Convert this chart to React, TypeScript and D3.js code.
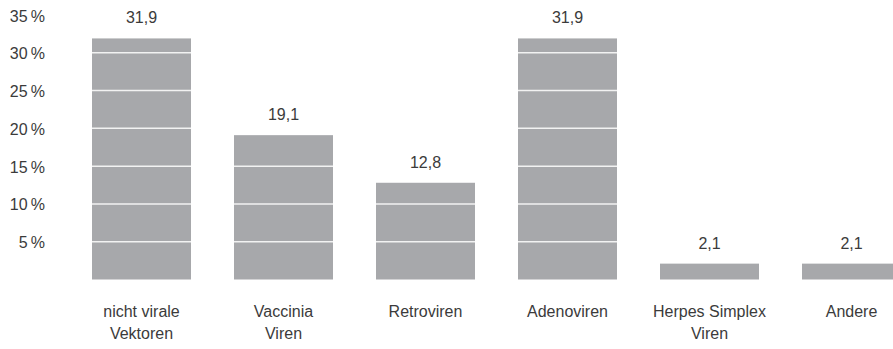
import React from "react";
import * as d3 from "d3";

const categories: string[][] = [
  ["nicht virale", "Vektoren"],
  ["Vaccinia", "Viren"],
  ["Retroviren"],
  ["Adenoviren"],
  ["Herpes Simplex", "Viren"],
  ["Andere"],
];
const values: number[] = [31.9, 19.1, 12.8, 31.9, 2.1, 2.1];
const valueLabels: string[] = ["31,9", "19,1", "12,8", "31,9", "2,1", "2,1"];
const yTicks: number[] = [5, 10, 15, 20, 25, 30, 35];
const gridValues: number[] = [5, 10, 15, 20, 25, 30];

const W = 893;
const H = 349;
const FONT = "'Liberation Sans', Arial, sans-serif";
const TEXT = "#3b3b3b";
const BAR = "#a7a8ab";

export default function App() {
  const keys = categories.map((c) => c.join(" "));
  const x = d3
    .scaleBand<string>()
    .domain(keys)
    .range([92, 901])
    .paddingInner(43 / 142)
    .paddingOuter(0);
  const y = d3.scaleLinear().domain([0, 35]).range([279.5, 15]);

  return (
    <svg
      width={W}
      height={H}
      style={{ position: "absolute", left: 0, top: 0, background: "#fff" }}
      fontFamily={FONT}
    >
      {yTicks.map((t) => (
        <text
          key={t}
          x={45}
          y={y(t) + 1}
          textAnchor="end"
          dominantBaseline="central"
          fontSize={16}
          fill={TEXT}
        >
          {t + "\u2009%"}
        </text>
      ))}
      {keys.map((k, i) => {
        const x0 = x(k)!;
        const bw = x.bandwidth();
        const top = y(values[i]);
        return (
          <g key={k}>
            <rect x={x0} y={top} width={bw} height={y(0) - top} fill={BAR} />
            {gridValues
              .filter((g) => g < values[i])
              .map((g) => (
                <line
                  key={g}
                  x1={x0}
                  x2={x0 + bw}
                  y1={y(g)}
                  y2={y(g)}
                  stroke="#f2f2f2"
                  strokeWidth={1.5}
                />
              ))}
            <text
              x={x0 + bw / 2}
              y={top - 15}
              textAnchor="middle"
              fontSize={16}
              fill={TEXT}
            >
              {valueLabels[i]}
            </text>
            {categories[i].map((line, j) => (
              <text
                key={j}
                x={x0 + bw / 2}
                y={317 + j * 21.5}
                textAnchor="middle"
                fontSize={16}
                fill={TEXT}
              >
                {line}
              </text>
            ))}
          </g>
        );
      })}
    </svg>
  );
}
